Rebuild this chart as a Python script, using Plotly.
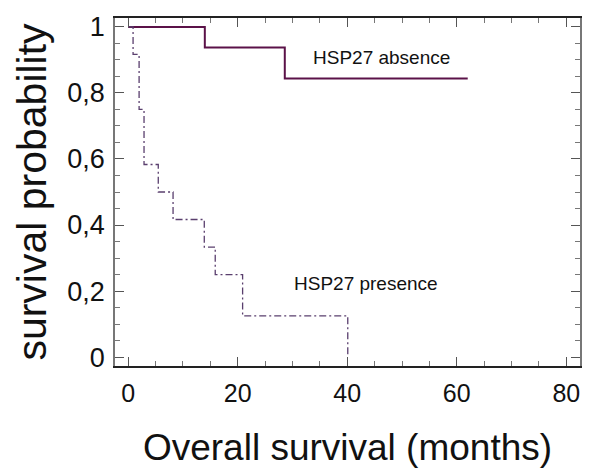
import plotly.graph_objects as go

# Kaplan-Meier step data
absence_months = [0, 14.0, 28.6, 62.0]
absence_surv = [1.0, 0.9375, 0.84375, 0.84375]

presence_months = [0, 0.9, 2.0, 2.9, 5.5, 8.2, 13.9, 15.9, 20.9, 40.1]
presence_surv = [1.0, 0.9167, 0.75, 0.5833, 0.5, 0.4167, 0.3333, 0.25, 0.125, 0.0]

x_ticks = [0, 20, 40, 60, 80]
y_ticks = [0, 0.2, 0.4, 0.6, 0.8, 1]

FONT = "Liberation Sans, Arial, sans-serif"

fig = go.Figure()
fig.add_trace(go.Scatter(
    x=absence_months, y=absence_surv, mode="lines", line_shape="hv",
    line=dict(color="#5b1248", width=2), name="HSP27 absence", showlegend=False))
fig.add_trace(go.Scatter(
    x=presence_months, y=presence_surv, mode="lines", line_shape="hv",
    line=dict(color="#5a3f6e", width=1.3, dash="7px,3px,2px,3px"),
    name="HSP27 presence", showlegend=False))

fig.add_annotation(x=33.3, y=0.906, text="HSP27 absence", showarrow=False,
                   xanchor="left", yanchor="middle",
                   font=dict(family=FONT, size=19, color="#111"))
fig.add_annotation(x=30.0, y=0.224, text="HSP27 presence", showarrow=False,
                   xanchor="left", yanchor="middle",
                   font=dict(family=FONT, size=19, color="#111"))

# page body has an 8px default margin, so margins are offset by 8px
fig.update_layout(
    width=600, height=475,
    margin=dict(l=107, r=28, t=10, b=117),
    paper_bgcolor="white", plot_bgcolor="white",
    separators=",.",
    font=dict(family=FONT, color="#111"),
)
fig.update_xaxes(
    range=[-2.4, 82.5], tickvals=x_ticks, showgrid=False, zeroline=False,
    showline=True, linecolor="#222", linewidth=1.5, mirror="ticks",
    ticks="inside", ticklen=9, tickcolor="#555", tickwidth=1,
    minor=dict(dtick=5, ticks="inside", ticklen=5, tickcolor="#777", showgrid=False),
    tickfont=dict(size=25, family=FONT), ticklabelstandoff=4,
    title=dict(text="Overall survival (months)", font=dict(size=37, family=FONT), standoff=28),
    automargin=False,
)
fig.update_yaxes(
    range=[-0.027, 1.027], tickvals=y_ticks, showgrid=False, zeroline=False,
    showline=True, linecolor="#777", linewidth=1.5, mirror="ticks",
    ticks="inside", ticklen=9, tickcolor="#555", tickwidth=1,
    minor=dict(dtick=0.05, ticks="inside", ticklen=5, tickcolor="#777", showgrid=False),
    tickfont=dict(size=27, family=FONT), ticklabelstandoff=3,
    title=dict(text="survival probability", font=dict(size=41, family=FONT), standoff=8),
    automargin=False,
)

fig.write_html("out.html")
